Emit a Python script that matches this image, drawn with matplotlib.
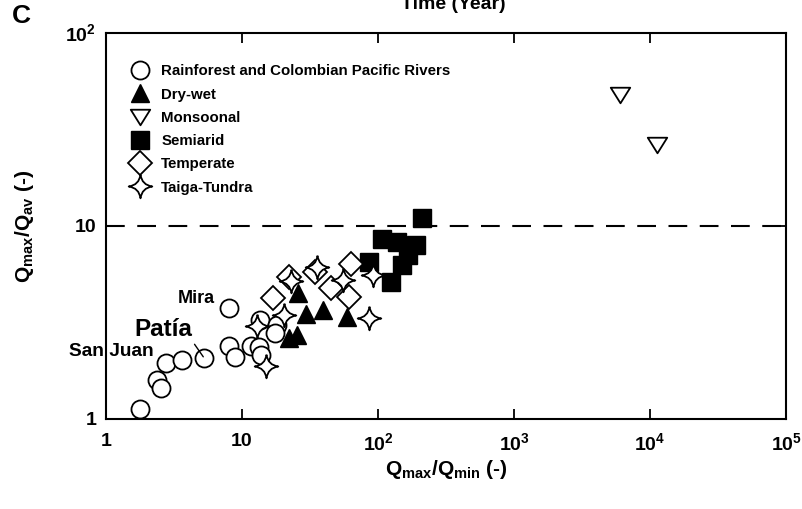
import matplotlib
matplotlib.use("Agg")
import matplotlib.pyplot as plt
from matplotlib.path import Path

plt.rcParams['font.family'] = ['Liberation Sans', 'DejaVu Sans']
plt.rcParams['font.weight'] = 'bold'
plt.rcParams['axes.labelweight'] = 'bold'
plt.rcParams['mathtext.fontset'] = 'custom'
plt.rcParams['mathtext.rm'] = 'Liberation Sans:bold'
plt.rcParams['mathtext.bf'] = 'Liberation Sans:bold'

# Qmax/Qmin and Qmax/Qav for each climate group
rain_x = [1.78, 2.37, 2.54, 2.76, 3.62, 5.26, 8.02, 8.02, 8.89, 11.6, 13.3, 13.8, 13.6, 18.1, 17.5]
rain_y = [1.13, 1.59, 1.45, 1.95, 2.02, 2.07, 3.76, 2.39, 2.10, 2.39, 2.36, 2.15, 3.26, 3.07, 2.79]

drywet_x = [25.8, 29.6, 39.4, 59.1, 22.2, 25.4]
drywet_y = [4.50, 3.50, 3.67, 3.38, 2.63, 2.72]

monsoon_x = [6016, 11250]
monsoon_y = [47.7, 26.3]

semiarid_x = [210.7, 107, 138, 190, 85.9, 150, 125, 166]
semiarid_y = [11.0, 8.57, 8.26, 7.97, 6.51, 6.28, 5.13, 7.08]

temperate_x = [16.9, 22.2, 34.4, 45.1, 63.3, 61.2]
temperate_y = [4.24, 5.44, 5.78, 4.77, 6.35, 4.29]

taiga_x = [22.9, 35.6, 55.3, 91.9, 20.4, 12.9, 15.0, 85.9]
taiga_y = [5.19, 6.13, 5.25, 5.57, 3.46, 3.03, 1.88, 3.34]

labels = ['Rainforest and Colombian Pacific Rivers', 'Dry-wet', 'Monsoonal',
          'Semiarid', 'Temperate', 'Taiga-Tundra']

# 4-pointed star marker with concave sides
star_verts = [(0, 1), (0.12, 0.12), (1, 0), (0.12, -0.12), (0, -1),
              (-0.12, -0.12), (-1, 0), (-0.12, 0.12), (0, 1)]
star_codes = [Path.MOVETO, Path.CURVE3, Path.CURVE3, Path.CURVE3, Path.CURVE3,
              Path.CURVE3, Path.CURVE3, Path.CURVE3, Path.CURVE3]
star = Path(star_verts, star_codes)
tri_down = Path([(-1, 0.8), (1, 0.8), (0, -0.8), (-1, 0.8)],
                [Path.MOVETO, Path.LINETO, Path.LINETO, Path.CLOSEPOLY])

fig = plt.figure(figsize=(8.03, 5.09), dpi=100)
ax = fig.add_axes([0.132, 0.177, 0.847, 0.758])

ax.plot(rain_x, rain_y, 'o', ms=13, mfc='white', mec='black', mew=1.3, ls='none', label=labels[0])
ax.plot(drywet_x, drywet_y, '^', ms=12.5, mfc='black', mec='black', ls='none', label=labels[1])
ax.plot(monsoon_x, monsoon_y, marker=tri_down, ms=14, mfc='white', mec='black', mew=1.3, ls='none', label=labels[2])
ax.plot(semiarid_x, semiarid_y, 's', ms=13, mfc='black', mec='black', ls='none', label=labels[3])
ax.plot(temperate_x, temperate_y, 'D', ms=12, mfc='white', mec='black', mew=1.3, ls='none', label=labels[4])
ax.plot(taiga_x, taiga_y, marker=star, ms=17, mfc='white', mec='black', mew=1.3, ls='none', label=labels[5])

ax.axhline(10, color='black', lw=1.5, ls=(0, (9, 6)))

ax.set_xscale('log')
ax.set_yscale('log')
ax.set_xlim(1, 1e5)
ax.set_ylim(1, 100)
ax.minorticks_off()
ax.set_xticks([1, 10, 100, 1e3, 1e4, 1e5])
ax.set_xticklabels(['1', '10', '10$^{2}$', '10$^{3}$', '10$^{4}$', '10$^{5}$'])
ax.set_yticks([1, 10, 100])
ax.set_yticklabels(['1', '10', '10$^{2}$'])
ax.tick_params(direction='in', length=7, width=1.3, labelsize=14,
               top=True, right=True)
ax.tick_params(axis='x', pad=10)
ax.tick_params(axis='y', pad=7)
for s in ax.spines.values():
    s.set_linewidth(1.5)

ax.set_xlabel(r'Q$_{\mathrm{max}}$/Q$_{\mathrm{min}}$ (-)', fontsize=15, labelpad=2)
ax.set_ylabel(r'Q$_{\mathrm{max}}$/Q$_{\mathrm{av}}$ (-)', fontsize=15, labelpad=21)

ax.legend(loc='upper left', bbox_to_anchor=(0.013, 0.962), frameon=False, fontsize=10.8,
          handlelength=1.2, handletextpad=0.8, labelspacing=0.62, borderpad=0.6,
          numpoints=1)

ax.annotate('Mira', xy=(8.02, 3.76), xytext=(-10, 7), textcoords='offset points',
            fontsize=13, ha='right', va='center')
ax.annotate('Patía', xy=(5.26, 2.07), xytext=(2.62, 2.89), fontsize=17.5,
            ha='center', va='center',
            arrowprops=dict(arrowstyle='-', color='black', lw=1, relpos=(0.93, 0.3),
                            shrinkA=0, shrinkB=1))
ax.annotate('San Juan', xy=(2.76, 1.95), xytext=(-9, 8), textcoords='offset points',
            fontsize=13.8, ha='right', va='center')

fig.text(0.027, 0.969, 'C', fontsize=19, ha='center', va='center')
fig.text(0.564, 0.982, 'Time (Year)', fontsize=14, ha='center', va='baseline')

fig.savefig('out.png', dpi=100)
